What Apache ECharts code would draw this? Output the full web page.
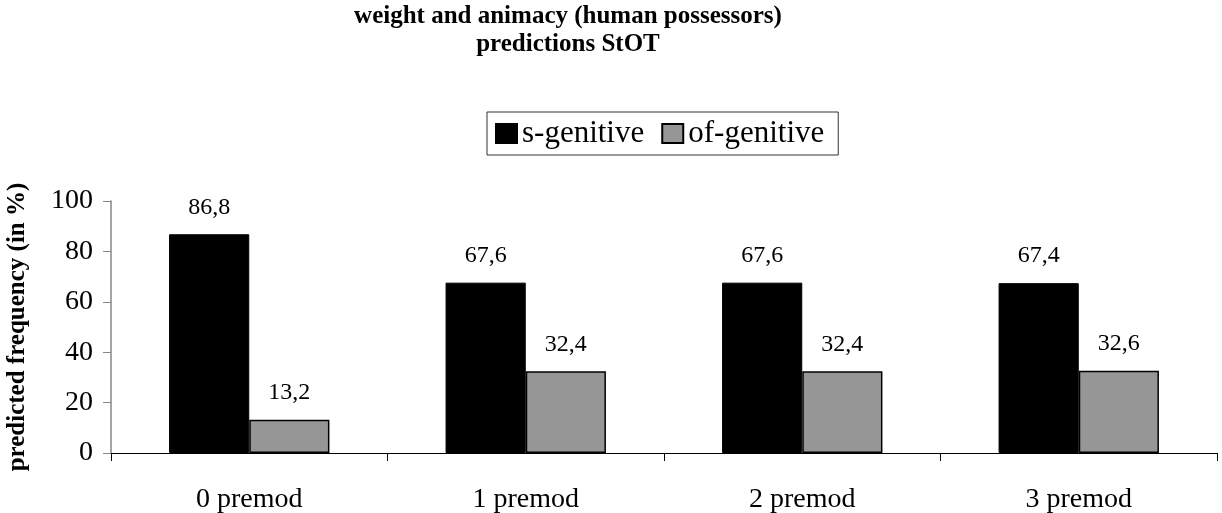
<!DOCTYPE html>
<html>
<head>
<meta charset="utf-8">
<script src="https://cdn.jsdelivr.net/npm/echarts@6/dist/echarts.min.js"></script>
<style>
  html, body { margin: 0; padding: 0; background: #fff; }
  #chart { width: 1222px; height: 513px; }
</style>
</head>
<body>
<div id="chart"></div>
<script>
// Predicted genitive choice by number of premodifiers
const categories = ['0 premod', '1 premod', '2 premod', '3 premod'];
const sGenitive = [86.8, 67.6, 67.6, 67.4];
const ofGenitive = [13.2, 32.4, 32.4, 32.6];
const yTicks = [0, 20, 40, 60, 80, 100];

const serif = '"Liberation Serif", "Times New Roman", serif';
const fmt = p => String(p.value).replace('.', ',');

const chart = echarts.init(document.getElementById('chart'));
chart.setOption({
  animation: false,
  backgroundColor: '#fff',
  graphic: [
    {
      type: 'text', x: 568, y: 3,
      style: {
        text: 'weight and animacy (human possessors)\npredictions StOT',
        font: 'bold 25px ' + serif, fill: '#000',
        textAlign: 'center', lineHeight: 28
      }
    }
  ],
  legend: {
    left: 487, top: 112,
    padding: [6, 14, 6, 8],
    borderColor: '#333', borderWidth: 1,
    icon: 'rect',
    itemWidth: 21, itemHeight: 19, itemGap: 17,
    textStyle: { fontFamily: serif, fontSize: 31, color: '#000' },
    data: ['s-genitive', 'of-genitive']
  },
  grid: { left: 111, right: 5, top: 201, bottom: 60, outerBoundsMode: 'none' },
  xAxis: {
    type: 'category',
    data: categories,
    axisLine: { lineStyle: { color: '#000', width: 1 } },
    axisTick: { show: true, alignWithLabel: false, length: 8, lineStyle: { color: '#000' } },
    axisLabel: { fontFamily: serif, fontSize: 28, color: '#000', margin: 33 }
  },
  yAxis: {
    type: 'value',
    min: yTicks[0], max: yTicks[yTicks.length - 1], interval: 20,
    name: 'predicted frequency (in %)',
    nameLocation: 'middle', nameGap: 81,
    nameTextStyle: { fontFamily: serif, fontSize: 25, fontWeight: 'bold', color: '#000' },
    axisLine: { show: true, lineStyle: { color: '#868686', width: 1.5 } },
    axisTick: { show: true, length: 8, lineStyle: { color: '#868686' } },
    splitLine: { show: false },
    axisLabel: { fontFamily: serif, fontSize: 28, color: '#000', margin: 18 }
  },
  series: [
    {
      name: 's-genitive', type: 'bar', data: sGenitive,
      barGap: '0%', barCategoryGap: '42%',
      itemStyle: { color: '#000', borderColor: '#000', borderWidth: 1 },
      label: { show: true, position: 'top', distance: 15, formatter: fmt,
               fontFamily: serif, fontSize: 24, color: '#000' }
    },
    {
      name: 'of-genitive', type: 'bar', data: ofGenitive,
      itemStyle: { color: '#969696', borderColor: '#000', borderWidth: 1.5 },
      label: { show: true, position: 'top', distance: 15, formatter: fmt,
               fontFamily: serif, fontSize: 24, color: '#000' }
    }
  ]
});
</script>
</body>
</html>
